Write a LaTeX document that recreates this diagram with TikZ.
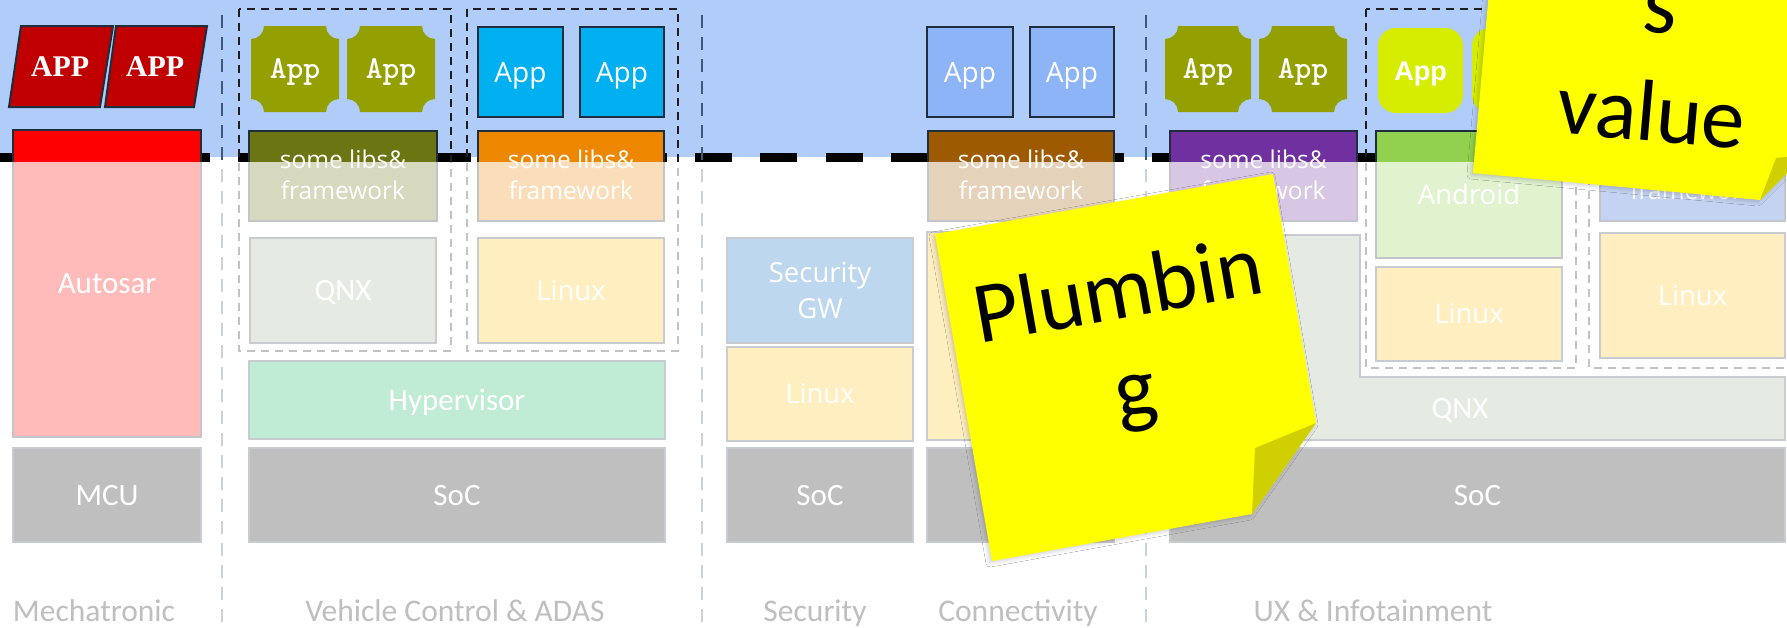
\documentclass[tikz,border=0pt]{standalone}
\usepackage{fontspec}
\setmainfont{Carlito}
\newfontfamily\osans{Open Sans}
\newfontfamily\lsans{Liberation Sans}
\newfontfamily\lserif{Liberation Serif}
\usetikzlibrary{shadows.blur}
\definecolor{band}{RGB}{176,204,248}
\definecolor{navy}{RGB}{31,45,61}
\definecolor{divc}{RGB}{58,90,126}
\definecolor{grpc}{RGB}{30,30,30}
\definecolor{redapp}{RGB}{192,0,0}
\definecolor{olive}{RGB}{147,160,0}
\definecolor{cyanapp}{RGB}{0,176,240}
\definecolor{skyapp}{RGB}{141,180,246}
\definecolor{limeapp}{RGB}{214,236,0}
\definecolor{autored}{RGB}{255,0,0}
\definecolor{libolive}{RGB}{107,118,18}
\definecolor{liborange}{RGB}{238,135,0}
\definecolor{libbrown}{RGB}{158,90,0}
\definecolor{libpurple}{RGB}{112,48,160}
\definecolor{androidg}{RGB}{146,208,80}
\definecolor{libblue}{RGB}{40,95,205}
\definecolor{lowline}{RGB}{200,203,208}
\definecolor{qnxc}{RGB}{229,235,227}
\definecolor{linuxc}{RGB}{255,238,191}
\definecolor{hypc}{RGB}{192,235,212}
\definecolor{socc}{RGB}{191,191,191}
\definecolor{secc}{RGB}{189,215,238}
\definecolor{labc}{RGB}{191,191,191}
\definecolor{notec}{RGB}{255,255,0}
\definecolor{foldc}{RGB}{208,208,0}
\tikzset{
 bx/.style={inner sep=0pt, outer sep=0pt, line width=2pt, text=white},
 hibox/.style={bx, draw=navy},
 lobox/.style={bx, draw=lowline},
 calib/.style={font=\fontsize{31}{37}\selectfont, text height=20pt, text depth=0pt},
 segf/.style={font=\osans\fontsize{27.5}{33}\selectfont, text height=19.6pt, text depth=0pt},
 appb/.style={font=\osans\fontsize{28}{33}\selectfont, text height=20pt, text depth=0pt},
 appr/.style={font=\lserif\bfseries\fontsize{30}{36}\selectfont, text height=19.9pt, text depth=0pt, text=white, inner sep=0pt},
 appo/.style={font=\ttfamily\bfseries\fontsize{32}{36}\selectfont, text height=19.5pt, text depth=0pt, text=white, inner sep=0pt},
 appl/.style={font=\lsans\bfseries\fontsize{27}{32}\selectfont, text height=19.3pt, text depth=0pt},
 libf/.style={font=\osans\fontsize{24.5}{31}\selectfont, text=white, inner sep=0pt},
 secf/.style={font=\osans\fontsize{27.5}{33}\selectfont, text=white, inner sep=0pt},
 lab/.style={font=\fontsize{31.5}{38}\selectfont, text=labc, inner sep=0pt},
 notef/.style={font=\fontsize{87}{105}\selectfont, text=black, inner sep=0pt},
 divline/.style={divc, line width=1.7pt, dash pattern=on 13pt off 9pt},
 grpline/.style={grpc, line width=2pt, dash pattern=on 8pt off 6pt},
 notepaper/.style={fill=notec, blur shadow={shadow xshift=-2pt, shadow yshift=-2pt, shadow blur radius=4pt, shadow opacity=18}},
}
% box node from corners: [opts]{name}{x1}{y1}{x2}{y2}{text}
\newcommand\bx[7][]{\node[#1, minimum width={#5-#3}, minimum height={#6-#4}] (#2) at ({(#3+#5)/2},{(#4+#6)/2}) {#7};}
% olive plaque app: {name}{x1}{y1}{x2}{y2}
\newcommand\plaque[5]{%
 \fill[olive] (#2,{#3+13}) .. controls ({#2+7.2},{#3+13}) and ({#2+13},{#3+7.2}) .. ({#2+13},#3) -- ({#4-13},#3) .. controls ({#4-13},{#3+7.2}) and ({#4-7.2},{#3+13}) .. (#4,{#3+13}) -- (#4,{#5-13}) .. controls ({#4-7.2},{#5-13}) and ({#4-13},{#5-7.2}) .. ({#4-13},#5) -- ({#2+13},#5) .. controls ({#2+13},{#5-7.2}) and ({#2+7.2},{#5-13}) .. (#2,{#5-13}) -- cycle;
 \node[appo] (#1) at ({(#2+#4)/2},{(#3+#5)/2}) {App};}
\begin{document}
\begin{tikzpicture}[x=1pt,y=-1pt]
\useasboundingbox (0,0) rectangle (1787,627);
\clip (0,0) rectangle (1787,627);
\fill[white] (0,0) rectangle (1787,627);
% blue band
\fill[band] (0,0) rectangle (1787,157);
\draw[line width=9pt, dash pattern=on 37pt off 28.3pt] (-23.3,157) -- (1800,157);
% dividers
\draw[divline] (222,15) -- (222,627);
\draw[divline] (702,15) -- (702,627);
\draw[divline] (1146,15) -- (1146,627);
% group boxes
\draw[grpline] (239,9) rectangle (451,351);
\draw[grpline] (467,9) rectangle (678,351);
\draw[grpline] (1366,9) rectangle (1576,368);
\draw[grpline] (1589,9) rectangle (1810,368);
% Mechatronic apps
\filldraw[fill=redapp, draw=navy, line width=2pt] (21,26) -- (113,26) -- (100,107) -- (9,107) -- cycle;
\filldraw[fill=redapp, draw=navy, line width=2pt] (116,26) -- (207,26) -- (194,107) -- (105,107) -- cycle;
\node[appr] (app1) at (60,66.5) {APP};
\node[appr] (app2) at (155,66.5) {APP};
% crossing boxes (full colour, faded by overlay)
\bx[hibox, fill=autored]{autosar}{13}{130}{201}{437}{}
\bx[hibox, fill=libolive]{libs1}{249}{131}{437}{221}{}
\bx[hibox, fill=liborange]{libs2}{478}{131}{664}{221}{}
\bx[hibox, fill=libbrown]{libs3}{928}{131}{1114}{221}{}
\bx[hibox, fill=libpurple]{libs4}{1170}{131}{1357}{221}{}
\bx[hibox, fill=androidg]{android}{1376}{131}{1562}{258}{}
\bx[hibox, fill=libblue]{libs5}{1600}{131}{1785}{221}{}
% apps
\plaque{va1}{251}{26}{339}{112}
\plaque{va2}{347}{26}{435}{112}
\bx[hibox, fill=cyanapp, appb]{vb1}{478}{27}{563}{117}{App}
\bx[hibox, fill=cyanapp, appb]{vb2}{580}{27}{664}{117}{App}
\bx[hibox, fill=skyapp, appb]{ca1}{927}{27}{1013}{117}{App}
\bx[hibox, fill=skyapp, appb]{ca2}{1030}{27}{1114}{117}{App}
\plaque{ua1}{1165}{26}{1251}{112}
\plaque{ua2}{1259}{26}{1347}{112}
\bx[bx, fill=limeapp, rounded corners=18pt, appl]{la1}{1378}{28}{1463}{113}{App}
\bx[bx, fill=limeapp, rounded corners=18pt, appl]{la2}{1472}{28}{1557}{113}{App}
% white veil over the lower part
\fill[white, opacity=0.73] (0,162) rectangle (1787,627);
% lower boxes
\bx[lobox, fill=socc, calib]{mcu}{13}{448}{201}{542}{MCU}
\bx[lobox, fill=qnxc, calib]{vqnx}{250}{238}{436}{343}{QNX}
\bx[lobox, fill=linuxc, segf]{vlinux}{478}{238}{664}{343}{Linux}
\bx[lobox, fill=hypc, calib]{hyp}{249}{361}{665}{439}{Hypervisor}
\bx[lobox, fill=socc, calib]{vsoc}{249}{448}{665}{542}{SoC}
\bx[lobox, fill=secc]{secgw}{727}{238}{913}{343}{}
\bx[lobox, fill=linuxc, segf]{slinux}{727}{347}{913}{441}{Linux}
\bx[lobox, fill=socc, calib]{ssoc}{727}{448}{913}{542}{SoC}
\bx[lobox, fill=linuxc, segf]{clinux}{927}{232}{1114}{440}{Linux}
\bx[lobox, fill=socc, calib]{csoc}{927}{448}{1114}{542}{SoC}
\filldraw[fill=qnxc, draw=lowline, line width=2pt] (1170,235) -- (1360,235) -- (1360,377) -- (1785,377) -- (1785,440) -- (1170,440) -- cycle;
\node[calib, text=white, inner sep=0pt] (uqnx) at (1460,408) {QNX};
\bx[lobox, fill=linuxc, segf]{ulinux1}{1376}{267}{1562}{361}{Linux}
\bx[lobox, fill=linuxc, segf]{ulinux2}{1600}{233}{1785}{358}{Linux}
\bx[lobox, fill=socc, calib]{usoc}{1170}{448}{1785}{542}{SoC}
% texts of crossing boxes
\node[calib, text=white, inner sep=0pt] (autosart) at (107,283.5) {Autosar};
\node[libf, anchor=base] (l1a) at (343,168) {some libs\&};
\node[libf, anchor=base] (l1b) at (343,199) {framework};
\node[libf, anchor=base] (l2a) at (571,168) {some libs\&};
\node[libf, anchor=base] (l2b) at (571,199) {framework};
\node[libf, anchor=base] (l3a) at (1021,168) {some libs\&};
\node[libf, anchor=base] (l3b) at (1021,199) {framework};
\node[libf, anchor=base] (l4a) at (1263.5,168) {some libs\&};
\node[libf, anchor=base] (l4b) at (1263.5,199) {framework};
\node[libf, anchor=base] (l5a) at (1692.5,168) {some libs\&};
\node[libf, anchor=base] (l5b) at (1692.5,199) {framework};
\node[segf, text=white, inner sep=0pt] (andt) at (1469,194.5) {Android};
\node[secf, anchor=base] (sg1) at (820,282) {Security};
\node[secf, anchor=base] (sg2) at (820,318) {GW};
% column labels
\node[lab, anchor=base] (lmech) at (94,621) {Mechatronic};
\node[lab, anchor=base] (lveh) at (455,621) {Vehicle Control \& ADAS};
\node[lab, anchor=base] (lsec) at (815,621) {Security};
\node[lab, anchor=base] (lcon) at (1018,621) {Connectivity};
\node[lab, anchor=base] (lux) at (1373,621) {UX \& Infotainment};
% sticky notes
\path[notepaper] (935,234) -- (1273,174) -- (1316,423) -- (1252,514) -- (992,561) -- cycle;
\fill[foldc] (1316,423) -- (1255,448) -- (1252,514) -- cycle;
\node[notef, anchor=base, rotate=10] (pl1) at (1123,318) {Plumbin};
\node[notef, anchor=base, rotate=10] (pl2) at (1140,417) {g};
\path[notepaper] (1497,-100) -- (1827,-100) -- (1805,155) -- (1760,200) -- (1473,173) -- cycle;
\fill[foldc] (1760,200) -- (1776,158) -- (1805,155) -- cycle;
\node[notef, anchor=base, rotate=-5] (vs1) at (1658,33) {s};
\node[notef, anchor=base, rotate=-5] (vs2) at (1649,141) {value};
\end{tikzpicture}
\end{document}
